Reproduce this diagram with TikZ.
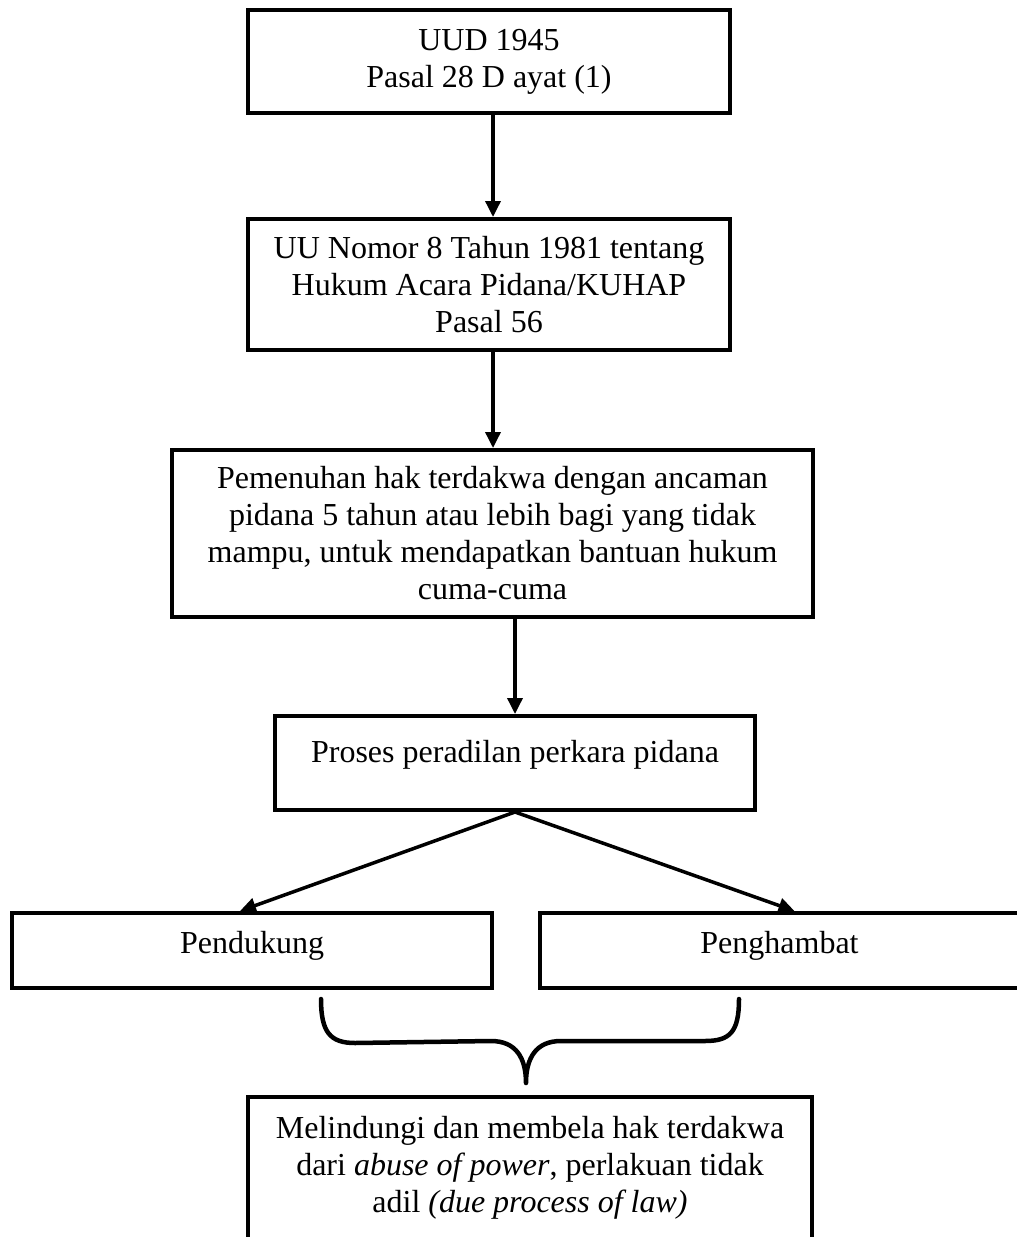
\documentclass[tikz,border=0pt]{standalone}
\usepackage{fontspec}
\setmainfont{Liberation Serif}
\usetikzlibrary{positioning}
\usetikzlibrary{arrows.meta}

\tikzset{
	kotak/.style={draw, line width=4pt, align=center, inner sep=0pt},
	panah/.style={line width=3.5pt, -{Triangle[length=16pt,width=15pt]}},
	kurung/.style={line width=4.5pt, line cap=round, line join=round},
}

\begin{document}
\begin{tikzpicture}[x=1pt, y=1pt, font=\fontsize{32}{37}\selectfont]

	% ------------------------------------------------
	% Ensure the dimensions of graphic are appropriate
	\useasboundingbox (0,0) rectangle (1017,-1237);

	% ------------------------------------------------
	% Relevant coordinates
	\coordinate (PUud) at (489,-61.5);
	\path (PUud)   +(0,-223)    coordinate (PKuhap);
	\path (PKuhap) +(3.5,-249)  coordinate (PHak);
	\path (PHak)   +(22.5,-229.5) coordinate (PProses);
	\path (PProses) +(-263,-187.5) coordinate (PDukung);
	\path (PProses) +(264.5,-187.5) coordinate (PHambat);
	\coordinate (PLindung) at (530,-1172);

	% ----------------
	% Boxes
	\node[kotak, minimum width=482, minimum height=103] (uud) at (PUud)
		{UUD 1945\\Pasal 28 D ayat (1)};
	\node[kotak, minimum width=482, minimum height=131] (kuhap) at (PKuhap)
		{UU Nomor 8 Tahun 1981 tentang\\Hukum Acara Pidana/KUHAP\\Pasal 56};
	\node[kotak, minimum width=641, minimum height=167] (hak) at (PHak)
		{Pemenuhan hak terdakwa dengan ancaman\\pidana 5 tahun atau lebih bagi yang tidak\\mampu, untuk mendapatkan bantuan hukum\\cuma-cuma};
	\node[kotak, minimum width=480, minimum height=94, text depth=24pt] (proses) at (PProses)
		{Proses peradilan perkara pidana};
	\node[kotak, minimum width=480, minimum height=75, text depth=17pt] (dukung) at (PDukung)
		{Pendukung};
	\node[kotak, minimum width=479, minimum height=75, text depth=17pt] (hambat) at (PHambat)
		{Penghambat};
	\node[kotak, minimum width=564, minimum height=150, text depth=16pt] (lindung) at (PLindung)
		{Melindungi dan membela hak terdakwa\\dari \textit{abuse of power}, perlakuan tidak\\adil \textit{(due process of law)}};

	%%%%%%%%%%%%%%%%%%%%%%%%%%%%%%%%%%%%%%%%%
	% Arrows
	\draw[panah] (uud.south -| 493,0) -- (kuhap.north -| 493,0);
	\draw[panah] (kuhap.south -| 493,0) -- (hak.north -| 493,0);
	\draw[panah] (hak.south -| proses.north) -- (proses.north);
	\draw[panah] (proses.south) -- ([xshift=-12pt]dukung.north);
	\draw[panah] (proses.south) -- ([xshift=15pt]hambat.north);

	% ----------------
	% Brace
	\path (dukung.south)  +(69,-9)   coordinate (KurungKiri);
	\path (hambat.south)  +(-40.5,-9) coordinate (KurungKanan);
	\path (lindung.north) +(-4,12)   coordinate (KurungUjung);

	\draw[kurung] (KurungKiri)
		.. controls +(0,-33) and +(-25,0) .. ++(34,-44) -- (491,-1041)
		.. controls +(25,0) and +(0,25) .. (KurungUjung)
		.. controls +(0,25) and +(-25,0) .. (561,-1041) -- (705,-1041)
		.. controls +(25,0) and +(0,-33) .. (KurungKanan);

\end{tikzpicture}
\end{document}
